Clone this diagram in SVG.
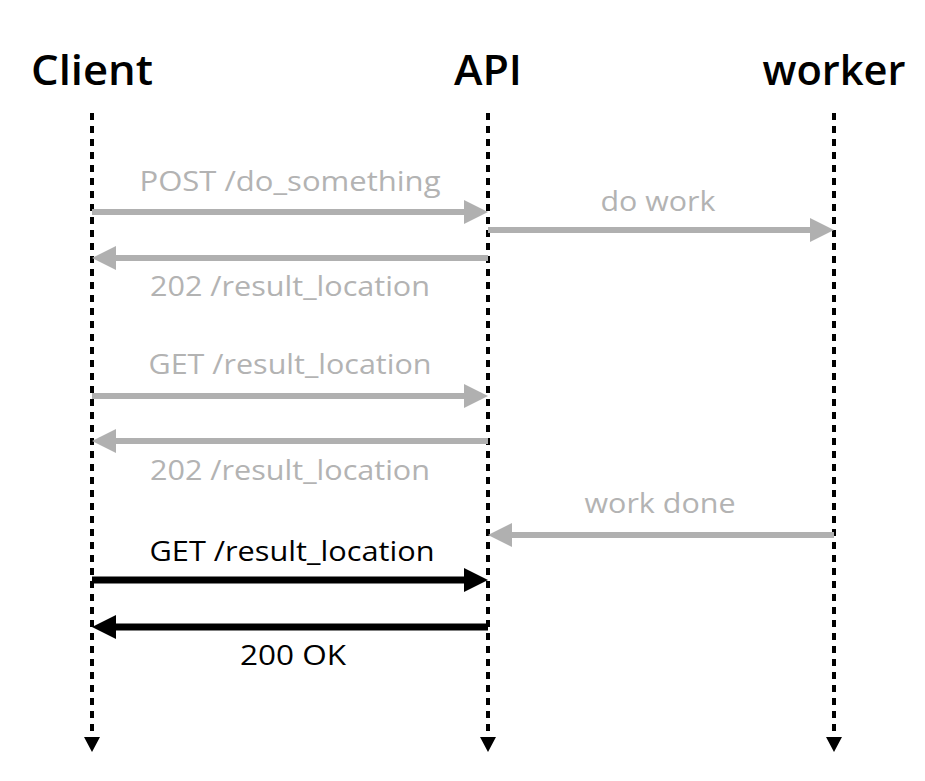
<svg xmlns="http://www.w3.org/2000/svg" width="925" height="781" viewBox="0 0 925 781">
<defs>
<style>
.title{font-family:"Open Sans","Noto Sans","DejaVu Sans",sans-serif;font-size:41px;font-weight:600;fill:#000;text-anchor:middle}
.lbl{font-family:"Open Sans","Noto Sans","DejaVu Sans",sans-serif;font-size:28px;text-anchor:middle}
.g{fill:#b3b3b3}
.k{fill:#000}
.life{stroke:#000;stroke-width:4;stroke-dasharray:7 6;fill:none}
.ga{stroke:#b0b0b0;stroke-width:6;fill:none}
.ka{stroke:#000;stroke-width:7;fill:none}
</style>
<marker id="ahg" markerUnits="userSpaceOnUse" markerWidth="24" markerHeight="24" refX="4" refY="12" orient="auto">
<path d="M0,0 L24,12 L0,24 z" fill="#b0b0b0"/>
</marker>
<marker id="ahk" markerUnits="userSpaceOnUse" markerWidth="24" markerHeight="24" refX="4" refY="12" orient="auto">
<path d="M0,0 L24,12 L0,24 z" fill="#000"/>
</marker>
<marker id="ahl" markerUnits="userSpaceOnUse" markerWidth="16" markerHeight="16" refX="2" refY="8" orient="auto">
<path d="M0,0 L15,8 L0,16 z" fill="#000"/>
</marker>
</defs>
<rect width="925" height="781" fill="#fff"/>
<g id="client">
<text class="title" x="92" y="85" textLength="122" lengthAdjust="spacingAndGlyphs">Client</text>
<line class="life" x1="92" y1="113" x2="92" y2="739" marker-end="url(#ahl)"/>
</g>
<g id="api">
<text class="title" x="488" y="85" textLength="68" lengthAdjust="spacingAndGlyphs">API</text>
<line class="life" x1="488" y1="113" x2="488" y2="739" marker-end="url(#ahl)"/>
</g>
<g id="worker">
<text class="title" x="834" y="85" textLength="143" lengthAdjust="spacingAndGlyphs">worker</text>
<line class="life" x1="834" y1="113" x2="834" y2="739" marker-end="url(#ahl)"/>
</g>
<g id="connectors">
<line class="ga" x1="92" y1="212" x2="468" y2="212" marker-end="url(#ahg)"/>
<text class="lbl g" x="290" y="191" textLength="301" lengthAdjust="spacingAndGlyphs">POST /do_something</text>
<line class="ga" x1="488" y1="230" x2="814" y2="230" marker-end="url(#ahg)"/>
<text class="lbl g" x="658" y="211" textLength="115" lengthAdjust="spacingAndGlyphs">do work</text>
<line class="ga" x1="488" y1="258" x2="112" y2="258" marker-end="url(#ahg)"/>
<text class="lbl g" x="290" y="296" textLength="280" lengthAdjust="spacingAndGlyphs">202 /result_location</text>
<line class="ga" x1="92" y1="396" x2="468" y2="396" marker-end="url(#ahg)"/>
<text class="lbl g" x="290" y="374" textLength="283" lengthAdjust="spacingAndGlyphs">GET /result_location</text>
<line class="ga" x1="488" y1="441" x2="112" y2="441" marker-end="url(#ahg)"/>
<text class="lbl g" x="290" y="480" textLength="280" lengthAdjust="spacingAndGlyphs">202 /result_location</text>
<line class="ga" x1="834" y1="535" x2="508" y2="535" marker-end="url(#ahg)"/>
<text class="lbl g" x="660" y="513" textLength="151" lengthAdjust="spacingAndGlyphs">work done</text>
<line class="ka" x1="92" y1="580" x2="468" y2="580" marker-end="url(#ahk)"/>
<text class="lbl k" x="292" y="561" textLength="285" lengthAdjust="spacingAndGlyphs">GET /result_location</text>
<line class="ka" x1="488" y1="627" x2="112" y2="627" marker-end="url(#ahk)"/>
<text class="lbl k" x="293" y="665" textLength="106" lengthAdjust="spacingAndGlyphs">200 OK</text>
</g>
</svg>
